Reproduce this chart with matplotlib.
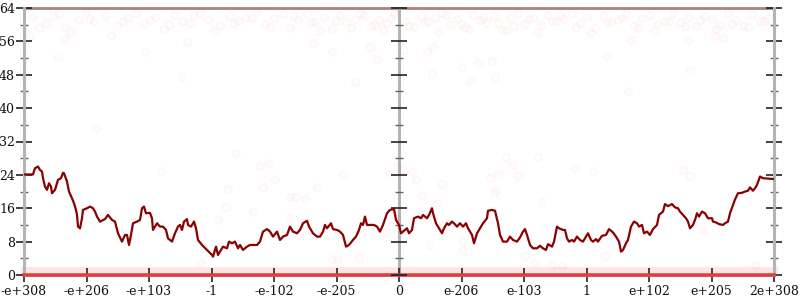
import matplotlib
matplotlib.use("Agg")
import matplotlib.pyplot as plt
from matplotlib.ticker import MultipleLocator

# ---------------- data ----------------
x_tick_labels = ["-e+308", "-e+206", "-e+103", "-1", "-e-102", "-e-205", "0",
                 "e-206", "e-103", "1", "e+102", "e+205", "2e+308"]
y_ticks = [0, 8, 16, 24, 32, 40, 48, 56, 64]

line_x = [0, 9, 11, 14, 16, 18, 19, 21, 23, 25, 27, 28, 31, 34, 37, 39, 40, 43, 45, 48,
          50, 52, 53, 54, 56, 58, 59, 63, 66, 69, 71, 73, 76, 81, 84, 88, 91, 94, 98, 101,
          103, 105, 107, 109, 113, 116, 118, 120, 122, 126, 128, 129, 133, 136, 139, 142, 144, 148, 151, 154,
          156, 158, 160, 163, 164, 167, 170, 172, 174, 178, 183, 188, 189, 192, 194, 197, 199, 203, 205, 208,
          211, 214, 216, 219, 223, 226, 229, 233, 236, 239, 243, 246, 249, 253, 256, 259, 263, 266, 269, 273,
          276, 279, 283, 285, 289, 293, 296, 299, 301, 303, 307, 309, 313, 316, 319, 322, 325, 329, 332, 335,
          337, 339, 341, 343, 346, 350, 353, 356, 359, 363, 366, 370, 372, 375, 377, 379, 383, 385, 388, 390,
          394, 397, 399, 403, 405, 408, 409, 412, 414, 418, 420, 423, 425, 428, 430, 433, 436, 439, 442, 444,
          448, 450, 453, 456, 459, 463, 464, 468, 471, 474, 476, 479, 483, 486, 489, 493, 496, 499, 501, 503,
          506, 509, 513, 516, 519, 522, 524, 528, 530, 533, 535, 539, 541, 543, 545, 548, 550, 553, 556, 559,
          562, 564, 567, 569, 572, 574, 578, 582, 585, 589, 592, 595, 597, 599, 602, 604, 607, 610, 613, 615,
          618, 620, 623, 626, 629, 633, 635, 639, 641, 644, 648, 651, 654, 656, 659, 662, 664, 666, 669, 671,
          673, 675, 678, 681, 684, 688, 689, 692, 695, 699, 701, 704, 706, 709, 711, 714, 718, 721, 724, 726,
          729, 731, 733, 736, 739, 750]
line_y = [24.1, 24.1, 25.6, 26.0, 25.2, 24.8, 23.2, 21.2, 20.4, 22.0, 21.2, 19.6, 20.4, 22.8, 23.2, 24.5, 24.4, 22.4, 20.0, 18.4,
          17.2, 15.6, 14.4, 11.6, 11.2, 13.6, 15.6, 16.0, 16.4, 16.0, 15.2, 14.0, 12.8, 13.4, 14.4, 13.2, 12.8, 10.0, 8.0, 9.6,
          9.6, 7.2, 9.6, 12.4, 12.8, 13.2, 16.0, 16.4, 14.8, 14.9, 13.6, 10.8, 12.4, 11.6, 11.6, 10.8, 8.8, 8.0, 10.0, 11.6,
          12.0, 10.8, 12.8, 13.4, 12.0, 11.6, 12.8, 11.2, 8.4, 7.2, 6.0, 4.8, 4.4, 6.8, 4.8, 6.0, 6.8, 6.4, 8.0, 7.6,
          8.0, 6.4, 7.2, 6.0, 6.8, 7.2, 7.2, 7.2, 8.0, 10.4, 11.0, 10.4, 9.2, 10.4, 8.4, 9.2, 9.6, 11.6, 10.4, 10.0,
          10.8, 12.4, 13.0, 11.6, 10.0, 9.2, 9.2, 10.4, 12.0, 11.2, 12.4, 11.0, 10.8, 10.4, 9.6, 6.8, 7.2, 8.4, 9.2, 10.8,
          12.4, 12.0, 14.0, 12.0, 12.0, 12.0, 11.6, 10.4, 12.0, 14.8, 15.6, 15.8, 13.2, 12.0, 10.0, 10.4, 11.2, 10.0, 10.8, 13.6,
          14.0, 13.6, 14.4, 13.6, 14.4, 16.0, 14.8, 12.4, 11.6, 10.0, 11.2, 12.4, 12.0, 12.8, 12.4, 11.6, 12.4, 11.6, 12.4, 11.2,
          9.6, 7.6, 10.0, 11.2, 12.4, 13.6, 15.4, 15.6, 15.4, 12.4, 9.6, 8.0, 8.0, 9.2, 8.4, 8.0, 9.0, 10.4, 11.0, 9.6,
          7.2, 6.4, 6.4, 7.0, 6.4, 6.0, 7.4, 6.8, 8.0, 11.6, 11.2, 10.8, 10.8, 8.8, 8.0, 8.4, 8.0, 9.2, 8.4, 8.0,
          9.2, 10.0, 8.4, 8.0, 8.6, 8.0, 9.4, 9.6, 11.0, 10.2, 9.2, 8.0, 5.6, 6.0, 7.6, 8.4, 11.6, 12.8, 12.4, 11.6,
          12.0, 10.0, 10.4, 9.6, 11.0, 12.0, 14.4, 15.2, 17.0, 16.5, 17.0, 16.2, 16.0, 15.2, 14.4, 13.6, 12.8, 11.2, 12.0, 13.2,
          14.8, 14.0, 15.2, 14.8, 13.6, 13.6, 12.8, 12.6, 12.2, 12.0, 12.4, 12.8, 14.8, 16.8, 18.1, 19.6, 19.7, 20.0, 20.2, 21.0,
          20.2, 20.8, 21.6, 23.6, 23.2, 23.0]

# faint sample points near the top (values 57..63.5)
top_dot_x = [8, 22, 35, 41, 55, 62, 70, 81, 93, 104, 112, 120, 131, 140, 150, 158, 165, 176, 184, 196,
             205, 214, 222, 233, 241, 250, 259, 266, 274, 283, 291, 300, 308, 316, 322, 331, 340, 347, 355, 363,
             370, 381, 390, 397, 404, 411, 418, 426, 433, 441, 449, 456, 463, 470, 478, 486, 494, 501, 509, 517,
             524, 532, 540, 548, 556, 563, 571, 579, 587, 594, 602, 610, 618, 626, 634, 641, 649, 657, 665, 672,
             680, 688, 696, 704, 712, 720, 728, 736, 744,
             15, 29, 47, 66, 87, 99, 126, 145, 170, 190, 210, 228, 246, 270, 288, 296, 312, 327, 336, 351,
             359, 367, 385, 401, 415, 422, 437, 445, 459, 474, 482, 490, 505, 513, 528, 536, 552, 567, 583, 598,
             614, 630, 645, 661, 676, 692, 708, 724, 740]
top_dot_y = [61.8, 60.5, 62.6, 59.4, 61.2, 63.0, 60.8, 62.1, 59.8, 61.5, 62.8, 60.2, 61.9, 58.9, 62.4, 61.0, 60.4, 62.7, 61.3, 59.6,
             62.2, 60.9, 61.7, 63.1, 60.1, 61.6, 62.5, 59.2, 61.1, 62.9, 60.6, 61.8, 59.0, 62.3, 60.7, 61.4, 62.0, 59.7, 61.2, 60.3,
             62.6, 61.0, 59.5, 62.2, 60.8, 61.6, 62.9, 60.0, 61.3, 59.4, 62.4, 61.1, 60.5, 62.0, 58.8, 61.7, 62.7, 60.2, 61.5, 59.9,
             62.3, 60.9, 61.4, 62.8, 60.4, 61.9, 59.3, 62.1, 60.7, 61.2, 62.6, 59.8, 61.6, 62.4, 60.1, 61.0, 62.9, 60.6, 61.8, 59.6,
             62.2, 61.3, 60.0, 62.7, 61.1, 59.7, 62.5, 60.8, 61.5,
             59.1, 62.0, 58.2, 61.4, 57.6, 60.9, 61.2, 59.9, 62.3, 58.6, 60.3, 61.7, 59.4, 62.1, 60.6, 58.4, 61.0, 59.2, 62.6, 60.0,
             58.8, 61.5, 59.6, 60.7, 58.3, 62.4, 60.2, 59.0, 61.8, 60.5, 58.7, 59.8, 61.3, 58.1, 60.8, 62.2, 59.5, 57.9, 60.4, 61.6,
             59.3, 58.5, 60.9, 59.7, 61.2, 58.9, 60.1, 59.4, 61.0]

# sparse sample points in the middle of the range
mid_dot_x = [34, 72, 158, 41, 121, 163, 6, 137, 176, 212, 236, 245, 251, 239, 204, 202, 194, 266, 271, 281,
             293, 319, 365, 373, 362, 373, 308, 313, 335, 229, 265, 482, 514, 494, 474, 466, 418, 392, 388, 379,
             472, 489, 551, 569, 518, 413, 398, 406, 438, 439, 470, 501, 511, 528, 538, 659, 666, 678, 581, 731,
             289, 308, 346, 353, 403, 409, 438, 454, 468, 471, 446, 408, 331, 379, 583, 666, 604, 607, 664, 699, 691]
mid_dot_y = [52.2, 35.2, 47.5, 56.6, 53.5, 55.9, 57.3, 25.0, 3.2, 29.2, 26.2, 26.9, 22.9, 21.2, 20.6, 16.4, 13.2, 18.7, 18.7, 18.2,
             21.1, 24.2, 24.2, 26.1, 10.4, 13.7, 3.8, 3.8, 4.1, 15.1, 13.7, 28.4, 28.4, 23.8, 24.2, 23.3, 21.8, 22.8, 24.8, 25.4,
             20.4, 26.4, 25.6, 24.9, 17.5, 17.3, 18.9, 7.2, 8.2, 6.0, 19.7, 4.6, 2.9, 2.4, 2.2, 25.2, 23.7, 11.0, 4.6, 2.4,
             55.6, 53.5, 54.7, 51.8, 53.5, 54.7, 49.9, 50.8, 51.3, 47.4, 46.5, 48.2, 46.3, 54.0, 52.5, 49.1, 44.2, 56.3, 56.3, 56.8, 57.3]

# ---------------- figure ----------------
fig = plt.figure(figsize=(8, 3), dpi=100)
ax = fig.add_axes([24 / 800, 25 / 300, 750 / 800, 267 / 300])
x_min, x_max = 0, 750
ax.set_xlim(x_min, x_max)
ax.set_ylim(0, 64)

axis_grey = "#b4b4b4"
for side in ("left", "right"):
    ax.spines[side].set_color(axis_grey)
    ax.spines[side].set_linewidth(2.2)
ax.spines["top"].set_visible(False)
ax.spines["bottom"].set_color(axis_grey)
ax.spines["bottom"].set_linewidth(2)

# top boundary and centre axis
ax.axhline(64, color="#9a9a9a", lw=2, zorder=1, clip_on=False)
ax.axhline(64, color="#ff2020", lw=2, alpha=0.2, zorder=1.1, clip_on=False)
ax.axvline((x_min + x_max) / 2, color=axis_grey, lw=2.2, zorder=1)

# faint sample dots
dot_kw = dict(s=30, facecolors=(1, 0, 0, 0.012), edgecolors=(1, 0, 0, 0.045), linewidths=0.8, zorder=2, clip_on=False)
ax.scatter(top_dot_x, top_dot_y, **dot_kw)
ax.scatter(mid_dot_x, mid_dot_y, **dot_kw)

# dense bands of samples at 0 and 1
ax.axhline(1.1, color="#ff0000", lw=5, alpha=0.10, zorder=2, clip_on=False)
ax.axhline(0, color="#e83030", lw=2.6, alpha=0.9, zorder=3, clip_on=False)

# main line
ax.plot(line_x, line_y, color="#8b0000", lw=1.6, zorder=4, solid_joinstyle="round")

# ticks
ax.yaxis.set_major_locator(MultipleLocator(8))
ax.yaxis.set_minor_locator(MultipleLocator(4))
ax.set_yticks(y_ticks)
ax.tick_params(axis="y", which="major", direction="inout", length=12, width=1.2,
               color="#222222", right=True, left=True, labelright=False, pad=0.5)
ax.tick_params(axis="y", which="minor", direction="inout", length=6, width=1,
               color="#666666", right=True, left=True)

xt = [x_min + i * (x_max - x_min) / (len(x_tick_labels) - 1) for i in range(len(x_tick_labels))]
ax.set_xticks(xt)
ax.set_xticklabels(x_tick_labels)
ax.tick_params(axis="x", which="major", direction="inout", length=10, width=1.2,
               color="#222222", pad=2)

# centre-axis ticks
cx = (x_min + x_max) / 2
ax.plot([cx] * len(y_ticks), y_ticks, linestyle="none", marker="_", ms=12, mew=1.2,
        color="#222222", zorder=3, clip_on=False)
minor_ticks = [t + 4 for t in y_ticks[:-1]]
ax.plot([cx] * len(minor_ticks), minor_ticks, linestyle="none", marker="_", ms=6, mew=1,
        color="#666666", zorder=3, clip_on=False)

for lab in ax.get_xticklabels() + ax.get_yticklabels():
    lab.set_fontfamily("DejaVu Serif")
    lab.set_fontsize(9)
    lab.set_color("#111111")

fig.savefig("out.png", dpi=100)
